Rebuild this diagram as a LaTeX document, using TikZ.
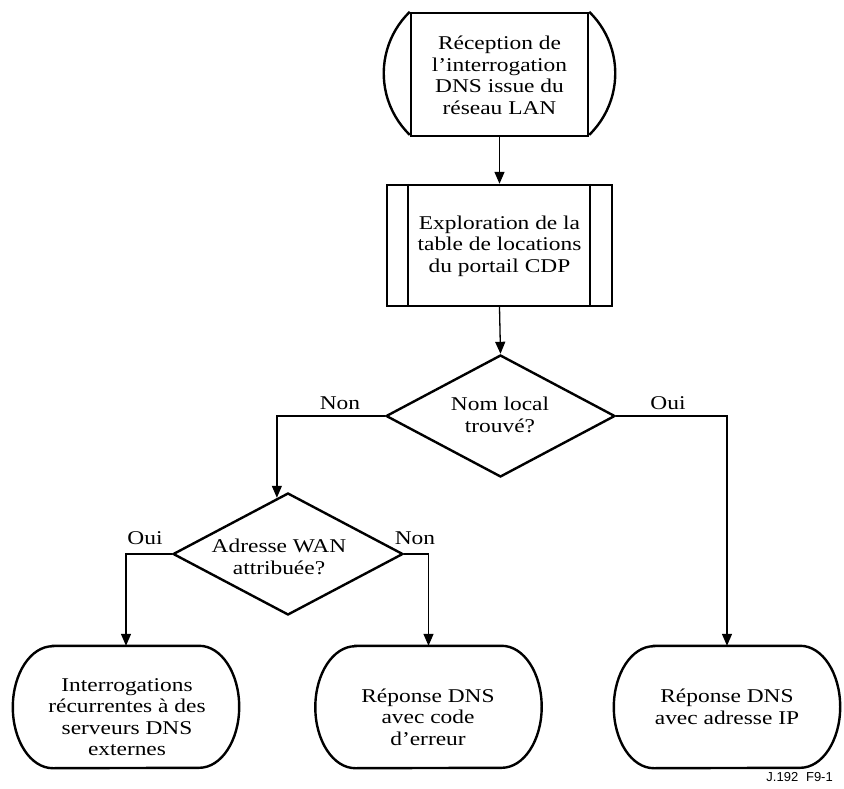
\documentclass[tikz,border=0pt]{standalone}
\usepackage{fontspec}
\setmainfont{Liberation Serif}[FakeStretch=1.2]
\newfontfamily\labsans{Liberation Sans}
\usetikzlibrary{arrows.meta,shapes.geometric,calc}
\begin{document}
\begin{tikzpicture}[x=1pt,y=1pt,
  shapeline/.style={line width=2.4pt},
  conn/.style={line width=1.3pt},
  arr/.style={conn,-{Triangle[length=12pt,width=10pt]}},
  txt/.style={align=center,font=\fontsize{19.5}{21.5}\selectfont,inner sep=0pt},
  lab/.style={font=\fontsize{19.5}{21.5}\selectfont,inner sep=0pt,anchor=base},
  dec/.style={diamond,draw,shapeline,minimum width=229pt,minimum height=122pt,inner sep=0pt},
  termbox/.style={minimum width=146pt,minimum height=122pt,inner sep=0pt},
]
\useasboundingbox (0,0) rectangle (844,-789);

% start (terminal with bulging sides)
\node[draw,shapeline,minimum width=177pt,minimum height=123pt,inner sep=0pt] (start) at (499.5,-74.5) {};
\draw[shapeline] (start.north west) arc[start angle=134.1,end angle=225.9,radius=85.7pt];
\draw[shapeline] (start.north east) arc[start angle=45.9,end angle=-45.9,radius=85.7pt];
\node[txt] (starttxt) at (499.5,-75.5) {Réception de\\l’interrogation\\DNS issue du\\réseau LAN};

% predefined process
\node[draw,shapeline,minimum width=225pt,minimum height=121pt,inner sep=0pt] (scan) at (499.5,-245.5) {};
\draw[shapeline] ([xshift=22pt]scan.north west) -- ([xshift=22pt]scan.south west);
\draw[shapeline] ([xshift=-23pt]scan.north east) -- ([xshift=-23pt]scan.south east);
\node[txt] (scantxt) at (499.5,-246) {Exploration de la\\table de locations\\du portail CDP};

% decisions
\node[dec] (d1) at (500.5,-416) {};
\node[txt] (d1txt) at (500,-415) {Nom local\\trouvé?};
\node[dec,minimum width=230pt] (d2) at (288,-554) {};
\node[txt] (d2txt) at (279,-557) {Adresse WAN\\attribuée?};

% terminals
\node[termbox] (t1) at (126,-707) {};
\node[termbox] (t2) at (428.5,-707) {};
\node[termbox] (t3) at (727,-707) {};
\foreach \t in {t1,t2,t3}{
  \draw[shapeline] (\t.north west) -- (\t.north east)
    arc[start angle=90,end angle=-90,x radius=40pt,y radius=61pt]
    -- (\t.south west)
    arc[start angle=270,end angle=90,x radius=40pt,y radius=61pt] -- cycle;
}
\node[txt] (t1txt) at (127,-717) {Interrogations\\récurrentes à des\\serveurs DNS\\externes};
\node[txt] (t2txt) at (428,-717) {Réponse DNS\\avec code\\d’erreur};
\node[txt] (t3txt) at (727,-707) {Réponse DNS\\avec adresse IP};

% connectors
\coordinate (d2in) at ($(d2.north)!0.0957!(d2.west)$);
\draw[arr] (start.south) -- (scan.north);
\draw[arr] (scan.south) -- (d1.north);
\draw[arr] (d1.west) -| (d2in);
\draw[arr] (d1.east) -| (t3.north);
\draw[arr] (d2.west) -| (t1.north);
\draw[arr] (d2.east) -| (t2.north);

% branch labels
\node[lab] (l1) at (340,-409) {Non};
\node[lab] (l2) at (668,-409) {Oui};
\node[lab] (l3) at (145,-544) {Oui};
\node[lab] (l4) at (415,-544) {Non};

% figure id
\node[font=\labsans\fontsize{13}{15}\selectfont,anchor=base east,inner sep=0pt] (figid) at (833,-781) {J.192\hspace{0.6em}F9-1};
\end{tikzpicture}
\end{document}
